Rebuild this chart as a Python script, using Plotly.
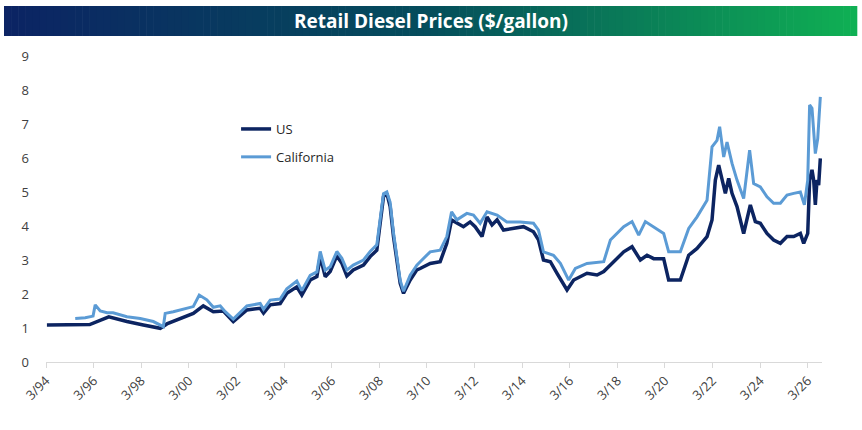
import datetime as dt

import plotly.graph_objects as go

# decimal years
us_years = [
    1994.2, 1996.0, 1996.8, 1997.56, 1998.25, 1998.96, 1999.24, 1999.93, 2000.35, 2000.77,
    2001.19, 2001.61, 2002.03, 2002.6, 2003.16, 2003.3, 2003.58, 2004.0, 2004.28, 2004.7,
    2004.91, 2005.26, 2005.54, 2005.68, 2005.89, 2006.1, 2006.38, 2006.59, 2006.8, 2007.07,
    2007.5, 2007.78, 2008.06, 2008.34, 2008.48, 2008.62, 2008.76, 2009.04, 2009.18, 2009.46,
    2009.74, 2009.88, 2010.3, 2010.72, 2011.0, 2011.2, 2011.42, 2011.7, 2011.98, 2012.19,
    2012.48, 2012.69, 2012.9, 2013.11, 2013.38, 2013.8, 2014.22, 2014.64, 2014.85, 2015.06,
    2015.35, 2015.63, 2016.05, 2016.33, 2016.61, 2016.89, 2017.31, 2017.59, 2017.87, 2018.43,
    2018.78, 2019.13, 2019.41, 2019.69, 2020.11, 2020.32, 2020.81, 2021.16, 2021.51, 2021.93,
    2022.14, 2022.28, 2022.42, 2022.56, 2022.7, 2022.84, 2022.98, 2023.19, 2023.47, 2023.75,
    2023.96, 2024.17, 2024.45, 2024.73, 2025.01, 2025.29, 2025.57, 2025.85, 2025.99, 2026.16,
    2026.24, 2026.34, 2026.41, 2026.48, 2026.55, 2026.62, 2026.69,
]
us_prices = [
    1.09, 1.10, 1.33, 1.19, 1.09, 0.99, 1.12, 1.33, 1.43, 1.65,
    1.48, 1.50, 1.19, 1.53, 1.58, 1.44, 1.68, 1.72, 2.02, 2.21,
    1.97, 2.41, 2.51, 3.10, 2.51, 2.66, 3.12, 2.90, 2.53, 2.71,
    2.85, 3.10, 3.29, 4.86, 4.96, 4.57, 3.69, 2.31, 2.02, 2.41,
    2.71, 2.75, 2.90, 2.95, 3.49, 4.18, 4.08, 3.98, 4.12, 3.98,
    3.69, 4.27, 4.03, 4.18, 3.88, 3.93, 3.98, 3.83, 3.59, 3.00,
    2.95, 2.61, 2.12, 2.41, 2.51, 2.61, 2.56, 2.66, 2.85, 3.24,
    3.39, 3.00, 3.14, 3.04, 3.04, 2.41, 2.41, 3.14, 3.34, 3.69,
    4.18, 5.35, 5.79, 5.35, 4.96, 5.40, 4.96, 4.57, 3.78, 4.62,
    4.13, 4.08, 3.78, 3.59, 3.49, 3.69, 3.69, 3.78, 3.49, 3.78,
    5.35, 5.65, 5.35, 4.62, 5.35, 5.20, 5.99,
]

ca_years = [
    1995.39, 1995.81, 1996.14, 1996.23, 1996.44, 1996.73, 1996.98, 1997.56, 1998.12, 1998.67,
    1999.09, 1999.17, 1999.51, 1999.93, 2000.35, 2000.6, 2000.92, 2001.19, 2001.48, 2001.69,
    2002.03, 2002.6, 2003.16, 2003.3, 2003.58, 2004.0, 2004.28, 2004.7, 2004.91, 2005.26,
    2005.54, 2005.68, 2005.89, 2006.1, 2006.38, 2006.59, 2006.8, 2007.07, 2007.5, 2007.78,
    2008.06, 2008.34, 2008.48, 2008.62, 2008.76, 2009.04, 2009.18, 2009.46, 2009.74, 2009.88,
    2010.3, 2010.72, 2011.0, 2011.2, 2011.42, 2011.84, 2012.12, 2012.4, 2012.69, 2013.11,
    2013.52, 2014.08, 2014.64, 2014.85, 2015.06, 2015.48, 2015.77, 2016.12, 2016.4, 2016.89,
    2017.59, 2017.87, 2018.3, 2018.43, 2018.78, 2019.06, 2019.34, 2019.69, 2020.11, 2020.32,
    2020.81, 2021.16, 2021.51, 2021.93, 2022.14, 2022.35, 2022.46, 2022.63, 2022.77, 2022.98,
    2023.19, 2023.47, 2023.72, 2023.89, 2024.17, 2024.45, 2024.73, 2025.01, 2025.29, 2025.57,
    2025.85, 2026.02, 2026.16, 2026.24, 2026.34, 2026.48, 2026.58, 2026.69,
]
ca_prices = [
    1.28, 1.30, 1.35, 1.68, 1.50, 1.45, 1.45, 1.33, 1.28, 1.19,
    1.04, 1.43, 1.48, 1.55, 1.63, 1.97, 1.83, 1.61, 1.65, 1.48,
    1.26, 1.65, 1.72, 1.55, 1.82, 1.85, 2.15, 2.38, 2.10, 2.55,
    2.65, 3.25, 2.70, 2.80, 3.25, 3.05, 2.70, 2.85, 3.00, 3.25,
    3.45, 4.95, 5.00, 4.70, 3.80, 2.40, 2.08, 2.55, 2.85, 2.95,
    3.24, 3.29, 3.69, 4.42, 4.18, 4.37, 4.32, 4.08, 4.42, 4.32,
    4.12, 4.12, 4.08, 3.88, 3.24, 3.14, 2.90, 2.41, 2.75, 2.90,
    2.95, 3.59, 3.88, 3.98, 4.13, 3.73, 4.13, 3.98, 3.78, 3.24,
    3.24, 3.93, 4.27, 4.76, 6.33, 6.52, 6.92, 6.03, 6.47, 5.84,
    5.35, 4.81, 6.23, 5.25, 5.15, 4.86, 4.67, 4.67, 4.91, 4.96,
    5.00, 4.62, 5.35, 7.56, 7.46, 6.13, 6.57, 7.80,
]

tick_dates = ["%d-03-01" % y for y in range(1994, 2027, 2)]
tick_labels = [
    "3/94", "3/96", "3/98", "3/00", "3/02", "3/04", "3/06", "3/08", "3/10",
    "3/12", "3/14", "3/16", "3/18", "3/20", "3/22", "3/24", "3/26",
]


def to_date(y):
    base = dt.datetime(int(y), 1, 1)
    return base + dt.timedelta(days=(y - int(y)) * 365.25)


fig = go.Figure()

fig.add_trace(go.Scatter(
    x=[to_date(y) for y in us_years], y=us_prices, name="US", mode="lines",
    line=dict(color="#0c2461", width=3.5), legendgroup="us",
))
fig.add_trace(go.Scatter(
    x=[to_date(y) for y in ca_years], y=ca_prices, name="California", mode="lines",
    line=dict(color="#5b9bd5", width=3), legendgroup="ca",
))

# gradient title bar: thin rectangles, positions in pixels converted to paper coords
L, R, T, B = 46, 821.7, 56, 362
def px_x(p):
    return (p - L) / (R - L)
def px_y(p):
    return (B - p) / (B - T)

stops = [(0.0, (12, 36, 100)), (0.5, (5, 78, 92)), (1.0, (16, 176, 84))]
n = 120
x0, x1 = 4, 857
shapes = []
for i in range(n):
    t = i / (n - 1)
    for (a, ca), (b, cb) in zip(stops[:-1], stops[1:]):
        if a <= t <= b:
            f = (t - a) / (b - a)
            c = tuple(int(ca[k] + (cb[k] - ca[k]) * f) for k in range(3))
            break
    xa = x0 + (x1 - x0) * i / n
    xb = x0 + (x1 - x0) * (i + 1) / n + 0.6
    shapes.append(dict(
        type="rect", xref="paper", yref="paper",
        x0=px_x(xa), x1=px_x(min(xb, x1)), y0=px_y(36), y1=px_y(6),
        fillcolor="rgb(%d,%d,%d)" % c, line=dict(width=0), layer="below",
    ))

fig.update_layout(
    width=862, height=430,
    margin=dict(l=L, r=862 - R, t=T, b=430 - B),
    plot_bgcolor="white", paper_bgcolor="white",
    font=dict(family="Open Sans", size=13, color="#404040"),
    shapes=shapes,
    annotations=[dict(
        text="<b>Retail Diesel Prices ($/gallon)</b>", xref="paper", yref="paper",
        x=px_x(431), y=px_y(21), xanchor="center", yanchor="middle", showarrow=False,
        font=dict(family="Open Sans", size=19, color="white"),
    )],
    showlegend=True,
    legend=dict(
        x=px_x(236), y=px_y(114), xanchor="left", yanchor="top",
        font=dict(size=13, color="#262626"), bgcolor="rgba(0,0,0,0)",
        tracegroupgap=8,
    ),
    xaxis=dict(
        type="date", range=["1994-03-01", to_date(2026.76)],
        tickvals=tick_dates, ticktext=tick_labels, tickangle=-45,
        showgrid=False, showline=True, linecolor="#d9d9d9", linewidth=1,
        ticks="outside", ticklen=5, tickcolor="#d9d9d9", zeroline=False,
    ),
    yaxis=dict(
        range=[0, 9], dtick=1, showgrid=False, zeroline=False, showline=False,
        ticklabelstandoff=16,
    ),
)

fig.write_html(
    "out.html",
    config={"displayModeBar": False},
    post_script="document.body.style.margin='0';",
)
